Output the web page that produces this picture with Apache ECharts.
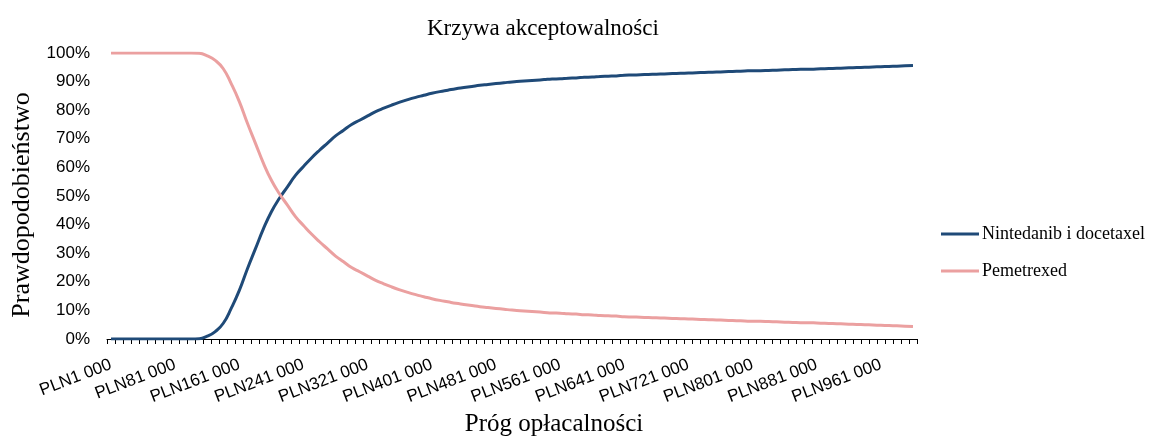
<!DOCTYPE html>
<html>
<head>
<meta charset="utf-8">
<script src="https://cdn.jsdelivr.net/npm/echarts@6/dist/echarts.min.js"></script>
<style>
  html, body { margin: 0; padding: 0; background: #fff; }
  #chart { width: 1173px; height: 437px; }
</style>
</head>
<body>
<div id="chart"></div>
<script>
// Krzywa akceptowalności
// progi opłacalności: PLN1 000 ... PLN1 001 000 co 10 000
var thresholds = [];
for (var t = 1000; t <= 1001000; t += 10000) thresholds.push(t);

// Nintedanib i docetaxel (%)
var nintedanib = [
  0, 0, 0, 0, 0, 0, 0, 0, 0, 0, 0,
  0.1, 1, 2.6, 5.5, 10.8, 17, 24.5, 31.5, 38.5, 44.5,
  49.2, 53.2, 57.2, 60.3, 63.3, 66, 68.5, 71, 73, 75,
  76.5, 78, 79.5, 80.7, 81.8, 82.8, 83.7, 84.5, 85.2, 85.9,
  86.5, 87, 87.5, 87.9, 88.3, 88.7, 89, 89.3, 89.6, 89.9,
  90.1, 90.3, 90.5, 90.7, 90.9, 91, 91.2, 91.3, 91.5, 91.6,
  91.8, 91.9, 92, 92.2, 92.3, 92.4, 92.5, 92.6, 92.7, 92.8,
  92.9, 93, 93.1, 93.2, 93.3, 93.4, 93.5, 93.6, 93.7, 93.8,
  93.8, 93.9, 94, 94.1, 94.2, 94.3, 94.3, 94.4, 94.5, 94.6,
  94.7, 94.8, 94.9, 95, 95.1, 95.2, 95.3, 95.4, 95.5, 95.6
];

// Pemetrexed (%)
var pemetrexed = [
  100, 100, 100, 100, 100, 100, 100, 100, 100, 100, 100,
  99.9, 99, 97.4, 94.5, 89.2, 83, 75.5, 68.5, 61.5, 55.5,
  50.8, 46.8, 42.8, 39.7, 36.7, 34, 31.5, 29, 27, 25,
  23.5, 22, 20.5, 19.3, 18.2, 17.2, 16.3, 15.5, 14.8, 14.1,
  13.5, 13, 12.5, 12.1, 11.7, 11.3, 11, 10.7, 10.4, 10.1,
  9.9, 9.7, 9.5, 9.3, 9.1, 9, 8.8, 8.7, 8.5, 8.4,
  8.2, 8.1, 8, 7.8, 7.7, 7.6, 7.5, 7.4, 7.3, 7.2,
  7.1, 7, 6.9, 6.8, 6.7, 6.6, 6.5, 6.4, 6.3, 6.2,
  6.2, 6.1, 6, 5.9, 5.8, 5.7, 5.7, 5.6, 5.5, 5.4,
  5.3, 5.2, 5.1, 5, 4.9, 4.8, 4.7, 4.6, 4.5, 4.4
];

var seriesNames = ['Nintedanib i docetaxel', 'Pemetrexed'];

// "PLN81 000"
function plnLabel (v) {
  var s = String(v).replace(/\B(?=(\d{3})+(?!\d))/g, ' ');
  return 'PLN' + s;
}

var serif = '"Liberation Serif", "Times New Roman", serif';
var sans = '"Liberation Sans", Arial, sans-serif';

var chart = echarts.init(document.getElementById('chart'));
var option = {
  animation: false,
  title: {
    text: 'Krzywa akceptowalności',
    left: 422,
    top: 12,
    textStyle: { fontFamily: serif, fontSize: 23, fontWeight: 'normal', color: '#000' }
  },
  legend: {
    orient: 'vertical',
    left: 936,
    top: 220,
    itemWidth: 38,
    itemHeight: 3,
    itemGap: 19,
    icon: 'rect',
    data: seriesNames,
    textStyle: { fontFamily: serif, fontSize: 18, color: '#000', lineHeight: 18, padding: [0, 0, 0, -2] }
  },
  grid: {
    left: 107,
    right: 256,
    top: 53,
    bottom: 98,
    containLabel: false,
    outerBoundsMode: 'none'
  },
  xAxis: {
    type: 'category',
    data: thresholds,
    boundaryGap: true,
    name: 'Próg opłacalności',
    nameLocation: 'middle',
    nameGap: 67,
    nameTextStyle: { fontFamily: serif, fontSize: 25, color: '#000', padding: [0, 0, 0, 84] },
    axisLine: { show: true, lineStyle: { color: '#000', width: 1 } },
    axisTick: { show: true, interval: 0, length: 5, lineStyle: { color: '#000' } },
    axisLabel: {
      interval: 7,
      rotate: 21,
      margin: 25,
      fontFamily: sans,
      fontSize: 17,
      color: '#000',
      formatter: plnLabel
    },
    splitLine: { show: false }
  },
  yAxis: {
    type: 'value',
    min: 0,
    max: 100,
    interval: 10,
    name: 'Prawdopodobieństwo',
    nameLocation: 'middle',
    nameGap: 70,
    nameTextStyle: { fontFamily: serif, fontSize: 26, color: '#000', padding: [0, 18, 0, 0] },
    axisLine: { show: false },
    axisTick: { show: false },
    axisLabel: { formatter: '{value}%', fontFamily: sans, fontSize: 17, color: '#000', margin: 17 },
    splitLine: { show: false }
  },
  series: [
    {
      name: seriesNames[0],
      type: 'line',
      data: nintedanib,
      smooth: true,
      showSymbol: false,
      lineStyle: { width: 3, color: '#1f4a78' },
      itemStyle: { color: '#1f4a78' }
    },
    {
      name: seriesNames[1],
      type: 'line',
      data: pemetrexed,
      smooth: true,
      showSymbol: false,
      lineStyle: { width: 3, color: '#eba0a0' },
      itemStyle: { color: '#eba0a0' }
    }
  ]
};
chart.setOption(option);
</script>
</body>
</html>
